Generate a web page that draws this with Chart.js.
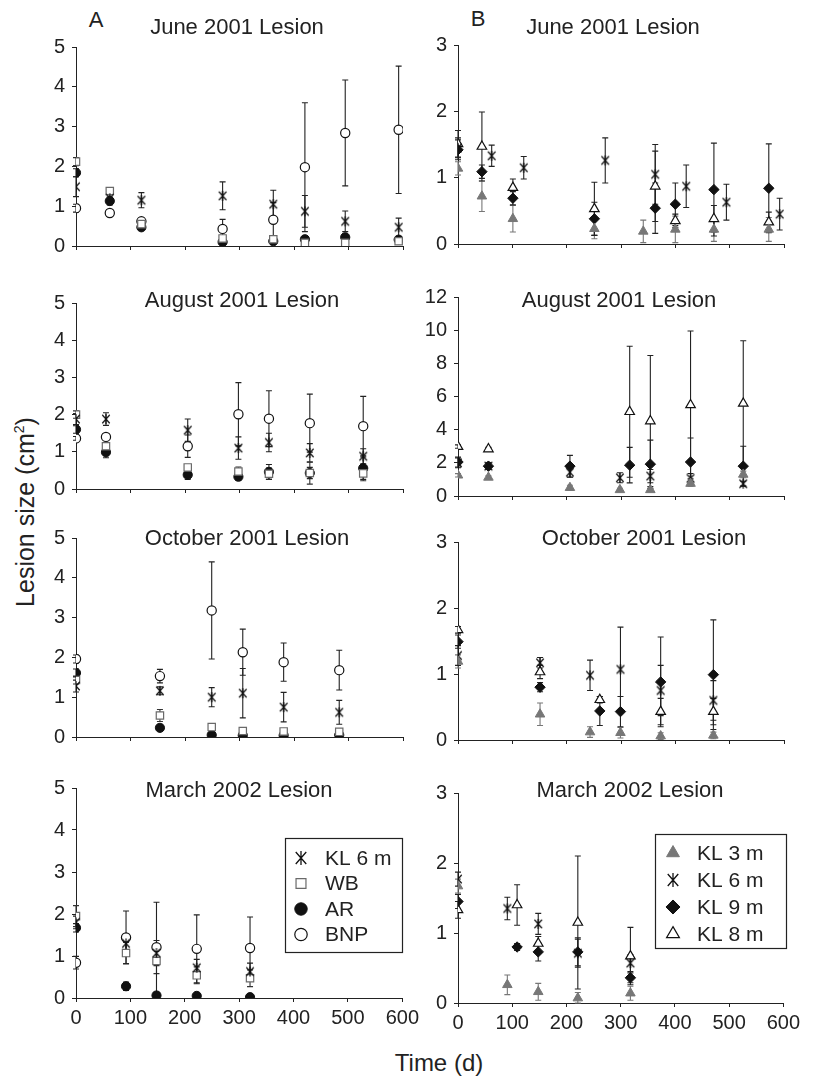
<!DOCTYPE html>
<html>
<head>
<meta charset="utf-8">
<script src="https://cdn.jsdelivr.net/npm/chart.js@4.4.0/dist/chart.umd.min.js"></script>
<style>
body { margin:0; background:#fff; width:819px; height:1079px; position:relative; overflow:hidden;
       font-family:"Liberation Sans", Arial, sans-serif; color:#222; }
.box { position:absolute; }
.lbl { position:absolute; transform:translate(-50%,-50%); white-space:nowrap; line-height:1; }
</style>
</head>
<body>
<div class="lbl" style="left:96px;top:20px;font-size:22px">A</div>
<div class="lbl" style="left:478px;top:19px;font-size:22px">B</div>
<div class="lbl" style="left:25px;top:512px;font-size:25px;transform:translate(-50%,-50%) rotate(-90deg)">Lesion size (cm<sup style="font-size:14px">2</sup>)</div>
<div class="lbl" style="left:439px;top:1063px;font-size:24px">Time (d)</div>

<script>
const FONT = '"Liberation Sans", Arial, sans-serif';

// axis labels / categories
const xTicks = [0, 100, 200, 300, 400, 500, 600];
const sitesA = ['KL 6 m', 'WB', 'AR', 'BNP'];
const sitesB = ['KL 3 m', 'KL 6 m', 'KL 9 m', 'KL 8 m'];
const lesionTitles = ['June 2001 Lesion', 'August 2001 Lesion', 'October 2001 Lesion', 'March 2002 Lesion'];
const yMaxA = [5, 5, 5, 5];
const yMaxB = [3, 12, 3, 3];

// values: [day, mean lesion size, error]
// --- A, June 2001
const junA_KL6 = [[0,1.49,0.25],[62,1.2,0.1],[120,1.15,0.19],[269,1.26,0.35],[362,1.05,0.35],[420,0.87,0.4],[494,0.62,0.26],[592,0.47,0.23]];
const junA_WB  = [[0,2.12,0.1],[62,1.38,0.08],[120,0.55,0.05],[269,0.19,0.05],[362,0.17,0.03],[420,0.08,0.03],[494,0.08,0.03],[592,0.12,0.03]];
const junA_AR  = [[0,1.84,0.1],[62,1.13,0.1],[120,0.47,0.06],[269,0.1,0.03],[362,0.12,0.03],[420,0.17,0.03],[494,0.22,0.04],[592,0.16,0.04]];
const junA_BNP = [[0,0.95,0.1],[62,0.83,0.08],[120,0.62,0.08],[269,0.43,0.24],[362,0.66,0.43],[420,1.98,1.62],[494,2.84,1.33],[592,2.92,1.6]];
// --- A, August 2001
const augA_KL6 = [[0,1.88,0.15],[55,1.88,0.17],[205,1.58,0.3],[298,1.1,0.3],[354,1.25,0.25],[429,0.97,0.25],[527,0.88,0.2]];
const augA_WB  = [[0,2.0,0.1],[55,1.15,0.1],[205,0.58,0.08],[298,0.47,0.12],[354,0.41,0.15],[429,0.43,0.3],[527,0.42,0.2]];
const augA_AR  = [[0,1.6,0.1],[55,0.99,0.15],[205,0.38,0.12],[298,0.33,0.1],[354,0.46,0.2],[429,0.43,0.15],[527,0.56,0.3]];
const augA_BNP = [[0,1.36,0.05],[55,1.4,0.08],[205,1.15,0.3],[298,2.01,0.85],[354,1.89,0.75],[429,1.77,0.78],[527,1.69,0.8]];
// --- A, October 2001
const octA_KL6 = [[0,1.28,0.15],[154,1.16,0.1],[249,1.0,0.24],[306,1.1,0.62],[381,0.75,0.37],[483,0.62,0.3]];
const octA_WB  = [[0,1.43,0.1],[154,0.54,0.15],[249,0.25,0.05],[306,0.15,0.05],[381,0.14,0.04],[483,0.13,0.04]];
const octA_AR  = [[0,1.61,0.1],[154,0.23,0.03],[249,0.05,0.02],[306,0.04,0.02],[381,0.04,0.02],[483,0.05,0.02]];
const octA_BNP = [[0,1.96,0.1],[154,1.53,0.17],[249,3.18,1.22],[306,2.13,0.58],[381,1.88,0.48],[483,1.68,0.5]];
// --- A, March 2002
const marA_KL6 = [[0,1.8,0.15],[92,1.3,0.2],[148,1.07,0.3],[222,0.72,0.2],[320,0.63,0.2]];
const marA_WB  = [[0,1.95,0.25],[92,1.07,0.25],[148,0.88,0.3],[222,0.54,0.2],[320,0.47,0.2]];
const marA_AR  = [[0,1.67,0.1],[92,0.28,0.1],[148,0.06,0.02],[222,0.05,0.02],[320,0.02,0.02]];
const marA_BNP = [[0,0.84,0.15],[92,1.44,0.63],[148,1.21,1.07],[222,1.17,0.81],[320,1.19,0.74]];

// --- B, June 2001
const junB_KL3 = [[0,1.14,0.1],[44,0.72,0.23],[101,0.38,0.2],[251,0.23,0.15],[341,0.19,0.17],[400,0.22,0.2],[471,0.22,0.18],[572,0.22,0.18]];
const junB_KL6 = [[0,1.45,0.15],[62,1.33,0.16],[121,1.15,0.17],[271,1.26,0.34],[363,1.05,0.45],[420,0.87,0.32],[494,0.63,0.27],[592,0.45,0.24]];
const junB_KL9 = [[0,1.42,0.15],[44,1.09,0.1],[101,0.69,0.1],[251,0.38,0.25],[363,0.54,0.38],[400,0.6,0.32],[471,0.82,0.7],[572,0.84,0.67]];
const junB_KL8 = [[0,1.51,0.2],[44,1.47,0.52],[101,0.85,0.13],[251,0.53,0.4],[363,0.87,0.53],[400,0.35,0.1],[471,0.38,0.2],[572,0.33,0.15]];
// --- B, August 2001
const augB_KL3 = [[0,1.25,0.1],[56,1.12,0.1],[206,0.5,0.15],[298,0.37,0.1],[354,0.37,0.1],[428,0.75,0.1],[525,1.3,0.2]];
const augB_KL6 = [[0,2.0,0.3],[56,1.8,0.2],[206,1.43,0.3],[298,1.1,0.3],[354,1.2,0.4],[428,1.06,0.3],[525,0.74,0.15]];
const augB_KL9 = [[0,2.05,0.3],[56,1.8,0.2],[206,1.8,0.65],[316,1.86,1.07],[354,1.92,1.45],[428,2.05,1.45],[525,1.8,1.2]];
const augB_KL8 = [[0,2.98,0.1],[56,2.83,0.1],[316,5.08,3.95],[354,4.52,3.95],[428,5.49,4.46],[525,5.58,3.78]];
// --- B, October 2001
const octB_KL3 = [[0,1.19,0.1],[151,0.39,0.17],[243,0.12,0.08],[299,0.11,0.08],[373,0.06,0.05],[470,0.07,0.05]];
const octB_KL6 = [[0,1.28,0.15],[151,1.17,0.08],[243,0.98,0.23],[299,1.07,0.64],[373,0.75,0.38],[470,0.6,0.3]];
const octB_KL9 = [[0,1.49,0.1],[151,0.8,0.07],[261,0.44,0.22],[299,0.43,0.23],[373,0.88,0.68],[470,0.99,0.83]];
const octB_KL8 = [[0,1.67,0.05],[151,1.03,0.1],[261,0.61,0.05],[373,0.43,0.2],[470,0.43,0.2]];
// --- B, March 2002
const marB_KL3 = [[0,1.67,0.1],[91,0.26,0.14],[148,0.16,0.12],[221,0.07,0.08],[318,0.14,0.1]];
const marB_KL6 = [[0,1.77,0.1],[91,1.35,0.16],[148,1.13,0.15],[221,0.71,0.2],[318,0.57,0.12]];
const marB_KL9 = [[0,1.45,0.1],[109,0.8,0.05],[148,0.73,0.13],[221,0.73,0.2],[318,0.36,0.07]];
const marB_KL8 = [[0,1.33,0.12],[109,1.4,0.29],[148,0.85,0.1],[221,1.15,0.95],[318,0.67,0.41]];

// asterisk-like marker: X with a vertical stroke
function starMark(size, lw) {
    const c = document.createElement('canvas');
    c.width = size; c.height = size;
    const g = c.getContext('2d');
    const m = size / 2, r = size / 2 - 1;
    g.strokeStyle = '#111';
    g.lineWidth = lw;
    g.beginPath();
    g.moveTo(m - r * 0.75, m - r * 0.85); g.lineTo(m + r * 0.75, m + r * 0.85);
    g.moveTo(m + r * 0.75, m - r * 0.85); g.lineTo(m - r * 0.75, m + r * 0.85);
    g.moveTo(m, m - r); g.lineTo(m, m + r);
    g.stroke();
    return c;
}

const styles = {
    'KL 6 m': { pointStyle: starMark(12, 1.2), legendStyle: starMark(16, 1.3), radius: 6, bg: '#111', border: '#111', bw: 1, bar: '#222' },
    'WB':     { pointStyle: 'rect', radius: 5.2, bg: '#fff', border: '#6a6a6a', bw: 1.2, bar: '#333' },
    'AR':     { pointStyle: 'circle', radius: 4.6, bg: '#111', border: '#111', bw: 1, bar: '#222' },
    'BNP':    { pointStyle: 'circle', radius: 4.6, bg: '#fff', border: '#111', bw: 1.2, bar: '#222' },
    'KL 3 m': { pointStyle: 'triangle', radius: 5.5, bg: '#777', border: '#777', bw: 1, bar: '#777' },
    'KL 9 m': { pointStyle: 'rectRot', radius: 5.2, bg: '#111', border: '#111', bw: 1, bar: '#222' },
    'KL 8 m': { pointStyle: 'triangle', radius: 5.5, bg: '#fff', border: '#111', bw: 1.2, bar: '#222' }
};

// vertical error bars, drawn under the markers
const errorBars = {
    id: 'errorBars',
    beforeDatasetsDraw(chart) {
        const { ctx, chartArea, scales } = chart;
        ctx.save();
        ctx.lineWidth = 1.1;
        chart.data.datasets.forEach((ds, i) => {
            const meta = chart.getDatasetMeta(i);
            ctx.strokeStyle = ds.barColor;
            meta.data.forEach((pt, j) => {
                const d = ds.data[j];
                if (!d.err) return;
                const top = scales.y.getPixelForValue(d.y + d.err);
                const bot = Math.min(scales.y.getPixelForValue(Math.max(d.y - d.err, 0)), chartArea.bottom);
                ctx.beginPath();
                ctx.moveTo(pt.x, top); ctx.lineTo(pt.x, bot);
                ctx.moveTo(pt.x - 3, top); ctx.lineTo(pt.x + 3, top);
                ctx.moveTo(pt.x - 3, bot); ctx.lineTo(pt.x + 3, bot);
                ctx.stroke();
            });
        });
        ctx.restore();
    }
};

// boxed legend inside the plot
const boxLegend = {
    id: 'boxLegend',
    afterDraw(chart, args, o) {
        if (!o.show) return;
        const { ctx, chartArea: a } = chart;
        const L = Math.round(a.left + o.left), T = Math.round(a.top + o.top);
        ctx.save();
        ctx.fillStyle = '#fff';
        ctx.fillRect(L, T, o.width, o.height);
        ctx.strokeStyle = '#222';
        ctx.lineWidth = 1.2;
        ctx.strokeRect(L + 0.5, T + 0.5, o.width, o.height);
        ctx.font = '21px ' + FONT;
        ctx.textBaseline = 'middle';
        ctx.textAlign = 'left';
        chart.data.datasets.forEach((ds, i) => {
            const cy = a.top + o.firstRow + i * o.rowStep;
            const st = styles[ds.label];
            ctx.fillStyle = st.bg;
            ctx.strokeStyle = st.border;
            ctx.lineWidth = st.bw;
            Chart.helpers.drawPoint(ctx, {
                pointStyle: st.legendStyle || st.pointStyle,
                radius: st.radius * 1.35, borderWidth: st.bw, rotation: 0
            }, a.left + o.symX, cy);
            ctx.fillStyle = '#222';
            ctx.fillText(ds.label, a.left + o.textX, cy + 1);
        });
        ctx.restore();
    }
};

const colA = { left: 76, right: 403 };
const colB = { left: 458, right: 784 };

const panels = [
    { col: colA, top: 42,  bottom: 257, yMax: yMaxA[0], names: sitesA, series: [junA_KL6, junA_WB, junA_AR, junA_BNP], title: lesionTitles[0], tx: 237, ty: 27 },
    { col: colA, top: 298, bottom: 500, yMax: yMaxA[1], names: sitesA, series: [augA_KL6, augA_WB, augA_AR, augA_BNP], title: lesionTitles[1], tx: 242, ty: 300 },
    { col: colA, top: 533, bottom: 748, yMax: yMaxA[2], names: sitesA, series: [octA_KL6, octA_WB, octA_AR, octA_BNP], title: lesionTitles[2], tx: 247, ty: 538 },
    { col: colA, top: 783, bottom: 998, yMax: yMaxA[3], names: sitesA, series: [marA_KL6, marA_WB, marA_AR, marA_BNP], title: lesionTitles[3], tx: 239, ty: 790, last: true,
      legend: { show: true, left: 209, top: 50, width: 117, height: 114, symX: 225, textX: 249, firstRow: 70, rowStep: 25.5 } },
    { col: colB, top: 40,  bottom: 255, yMax: yMaxB[0], names: sitesB, series: [junB_KL3, junB_KL6, junB_KL9, junB_KL8], title: lesionTitles[0], tx: 613, ty: 27 },
    { col: colB, top: 292, bottom: 507, yMax: yMaxB[1], names: sitesB, series: [augB_KL3, augB_KL6, augB_KL9, augB_KL8], title: lesionTitles[1], tx: 619, ty: 300 },
    { col: colB, top: 537, bottom: 751, yMax: yMaxB[2], names: sitesB, series: [octB_KL3, octB_KL6, octB_KL9, octB_KL8], title: lesionTitles[2], tx: 644, ty: 538 },
    { col: colB, top: 788, bottom: 1003, yMax: yMaxB[3], names: sitesB, series: [marB_KL3, marB_KL6, marB_KL9, marB_KL8], title: lesionTitles[3], tx: 630, ty: 790, last: true,
      legend: { show: true, left: 197, top: 41, width: 131, height: 114, symX: 215, textX: 239, firstRow: 60, rowStep: 27 } }
];

function makePanel(p) {
    const yw = 44, padTop = 14, padRight = 20;
    const xh = p.last ? 32 : 8;
    const w = (p.col.right - p.col.left) + yw + padRight;
    const h = (p.bottom - p.top) + padTop + xh;
    const div = document.createElement('div');
    div.className = 'box';
    div.style.cssText = `left:${p.col.left - yw}px;top:${p.top - padTop}px;width:${w}px;height:${h}px`;
    const cv = document.createElement('canvas');
    div.appendChild(cv);
    document.body.appendChild(div);

    const t = document.createElement('div');
    t.className = 'lbl';
    t.style.cssText = `left:${p.tx}px;top:${p.ty}px;font-size:22px`;
    t.textContent = p.title;
    document.body.appendChild(t);

    const datasets = p.series.map((arr, i) => {
        const st = styles[p.names[i]];
        return {
            label: p.names[i],
            data: arr.map(([x, y, err]) => ({ x, y, err })),
            pointStyle: st.pointStyle,
            pointRadius: st.radius,
            backgroundColor: st.bg,
            borderColor: st.border,
            borderWidth: st.bw,
            barColor: st.bar,
            showLine: false
        };
    });

    const axisGrid = { drawOnChartArea: false, drawTicks: true, tickLength: 4, color: '#222', lineWidth: 1 };
    new Chart(cv, {
        type: 'scatter',
        data: { datasets },
        options: {
            responsive: true,
            maintainAspectRatio: false,
            animation: false,
            layout: { padding: { top: padTop, right: padRight, left: 0, bottom: 0 } },
            plugins: { legend: { display: false }, tooltip: { enabled: false }, boxLegend: p.legend || { show: false } },
            scales: {
                x: {
                    type: 'linear', min: 0, max: 600,
                    afterBuildTicks: s => { s.ticks = xTicks.map(v => ({ value: v })); },
                    afterFit: s => { s.height = xh; },
                    ticks: { display: !!p.last, color: '#222', padding: 4, maxRotation: 0, font: { size: 20, family: FONT } },
                    grid: axisGrid,
                    border: { color: '#222', width: 1 }
                },
                y: {
                    min: 0, max: p.yMax,
                    afterFit: s => { s.width = yw; },
                    ticks: { stepSize: p.yMax > 5 ? 2 : 1, color: '#222', padding: 7, font: { size: 20, family: FONT } },
                    grid: axisGrid,
                    border: { color: '#222', width: 1 }
                }
            }
        },
        plugins: [errorBars, boxLegend]
    });
}

panels.forEach(makePanel);
</script>
</body>
</html>
